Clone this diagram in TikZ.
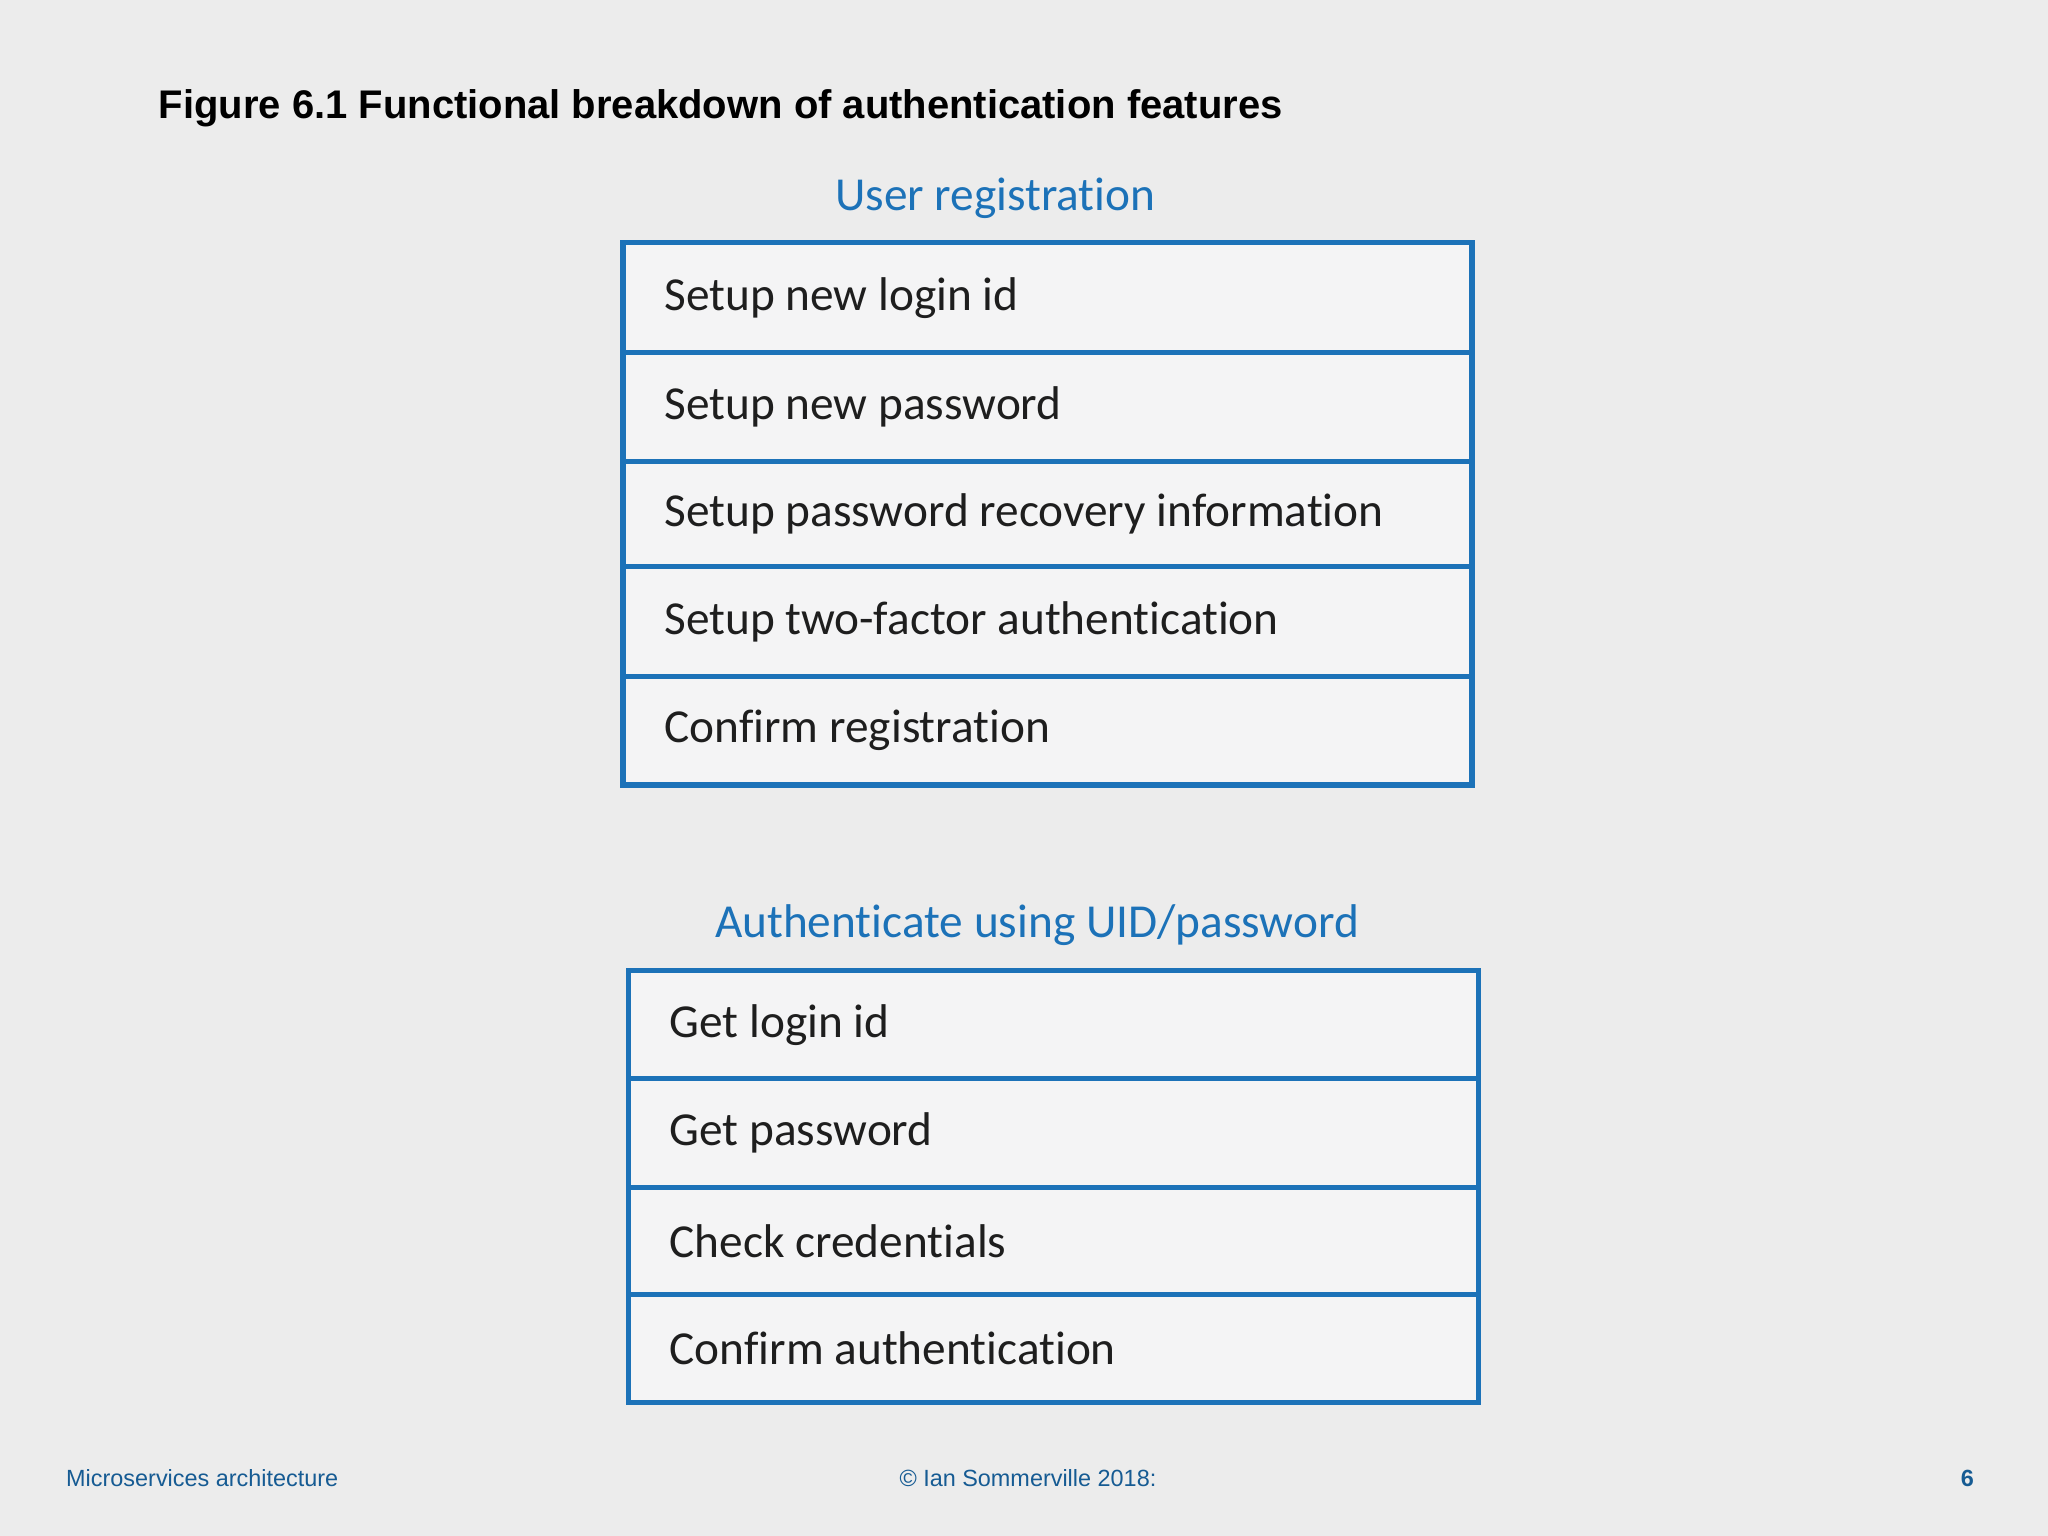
\documentclass[tikz,border=0pt]{standalone}
\usepackage{fontspec}
\setmainfont{Carlito}[Ligatures={NoCommon}]
\newfontfamily\arial{Liberation Sans}
\definecolor{bg}{HTML}{ECECEC}
\definecolor{boxfill}{HTML}{F4F4F5}
\definecolor{blu}{HTML}{1C72B8}
\definecolor{txt}{HTML}{1E1E1E}
\begin{document}
\begin{tikzpicture}[x=0.01cm,y=-0.01cm,inner sep=0pt,
  rowtext/.style={anchor=west,font=\fontsize{10.3pt}{12pt}\selectfont,text=txt},
  head/.style={font=\fontsize{10.3pt}{12pt}\selectfont,text=blu},
  foot/.style={font=\arial\fontsize{5.1pt}{6pt}\selectfont,text=blu!80!black}]
\fill[bg] (0,0) rectangle (1568,1176);
\useasboundingbox (0,0) rectangle (1568,1176);
\node[anchor=west,font=\arial\bfseries\fontsize{8.7pt}{10pt}\selectfont] (title) at (121,83) {Figure 6.1 Functional breakdown of authentication features};
\node[head] (h1) at (762,152) {User registration};
\foreach \i/\ya/\yb/\t in {1/186/270/Setup new login id,2/270/353/Setup new password,3/353/434/Setup password recovery information,4/434/518/Setup two-factor authentication,5/518/601/Confirm registration}{
  \draw[draw=blu,line width=1.1pt,fill=boxfill] (477,\ya) rectangle (1127,\yb);
  \node[rowtext] (a\i) at (508,{(\ya+\yb)/2}) {\t};
}
\node[head] (h2) at (794,708) {Authenticate using UID/password};
\foreach \i/\ya/\yb/\t in {1/743/826/Get login id,2/826/909/Get password,3/909/991/Check credentials,4/991/1074/Confirm authentication}{
  \draw[draw=blu,line width=1.1pt,fill=boxfill] (481,\ya) rectangle (1132,\yb);
  \node[rowtext] (b\i) at (512,{(\ya+\yb)/2}) {\t};
}
\node[foot,anchor=west] (f1) at (50,1132) {Microservices architecture};
\node[foot] (f2) at (787,1132) {© Ian Sommerville 2018:};
\node[foot,anchor=east,font=\arial\bfseries\fontsize{5.1pt}{6pt}\selectfont] (f3) at (1512,1132) {6};
\end{tikzpicture}
\end{document}
